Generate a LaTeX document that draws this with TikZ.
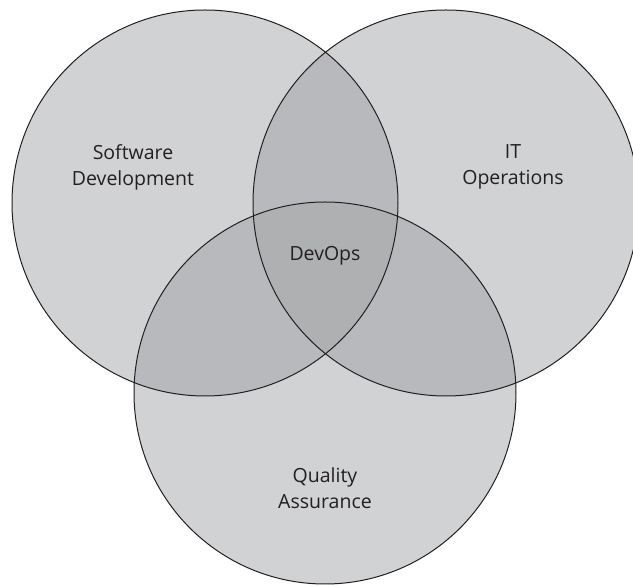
\documentclass[tikz,border=0pt]{standalone}
\usepackage{fontspec}
\setmainfont{Open Sans}
\definecolor{oneshade}{HTML}{D1D2D4}
\definecolor{twoshade}{HTML}{B8B9BC}
\definecolor{threeshade}{HTML}{AFB0B2}
\definecolor{ink}{HTML}{231F20}
\begin{document}
\begin{tikzpicture}[x=1pt,y=1pt,
  lbl/.style={align=center,font=\fontsize{19.5}{26}\selectfont,text=ink},
  ring/.style={draw=ink,line width=1pt}]
\useasboundingbox (0,0) rectangle (633,586);
\clip (0,0) rectangle (633,586);
\def\cL{(205,383) circle[radius=193]}
\def\cR{(446,383) circle[radius=193]}
\def\cB{(325,193) circle[radius=191]}
\fill[oneshade] \cL;
\fill[oneshade] \cR;
\fill[oneshade] \cB;
\begin{scope}\clip \cL; \fill[twoshade] \cR; \fill[twoshade] \cB; \end{scope}
\begin{scope}\clip \cR; \fill[twoshade] \cB; \end{scope}
\begin{scope}\clip \cL; \clip \cR; \fill[threeshade] \cB; \end{scope}
\draw[ring] \cL;
\draw[ring] \cR;
\draw[ring] \cB;
\node[lbl] (sd) at (133,419) {Software\\Development};
\node[lbl] (it) at (513,419) {IT\\Operations};
\node[lbl] (dv) at (325,330) {DevOps};
\node[lbl] (qa) at (325,98) {Quality\\Assurance};
\end{tikzpicture}
\end{document}
